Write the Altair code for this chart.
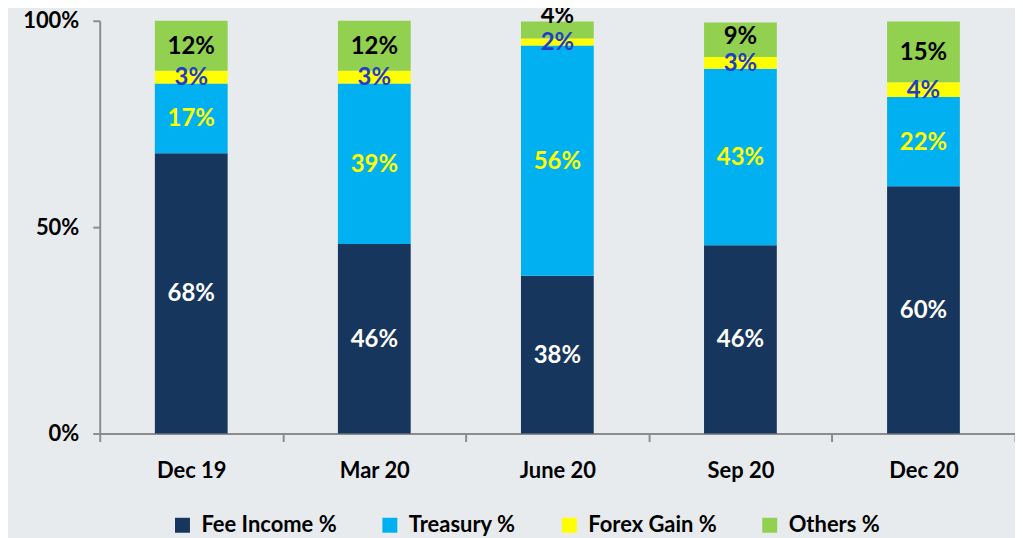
import altair as alt
import pandas as pd

categories = ["Dec 19", "Mar 20", "June 20", "Sep 20", "Dec 20"]
series = ["Fee Income %", "Treasury %", "Forex Gain %", "Others %"]
fee_income = [67.9, 45.9, 38.2, 45.6, 59.9]
treasury = [16.9, 38.9, 55.8, 42.8, 21.6]
forex_gain = [3.1, 3.1, 1.7, 2.8, 3.6]
others = [12.1, 12.1, 4.1, 8.4, 14.7]
fee_labels = ["68%", "46%", "38%", "46%", "60%"]
treasury_labels = ["17%", "39%", "56%", "43%", "22%"]
forex_labels = ["3%", "3%", "2%", "3%", "4%"]
others_labels = ["12%", "12%", "4%", "9%", "15%"]
y_ticks = [0, 50, 100]

bar_colors = ["#17365d", "#00b0f0", "#ffff00", "#92d050"]
text_colors = ["#ffffff", "#ffff00", "#1f3fc4", "#000000"]
FONT = "Lato"

values = [fee_income, treasury, forex_gain, others]
labels = [fee_labels, treasury_labels, forex_labels, others_labels]

rows = []
for i, cat in enumerate(categories):
    start = 0.0
    mids = []
    for j, s in enumerate(series):
        v = values[j][i]
        end = start + v
        mid = (start + end) / 2
        if j == 3:
            # keep the top label clear of the one beneath it
            mid = max(mid, mids[2] + 6.5)
        mids.append(mid)
        rows.append({"category": cat, "series": s, "order": j, "value": v,
                     "start": start, "end": end, "mid": mid, "label": labels[j][i]})
        start = end
df = pd.DataFrame(rows)

xenc = alt.X("category:N", sort=categories,
             scale=alt.Scale(domain=categories, paddingInner=0, paddingOuter=0),
             axis=alt.Axis(title=None, labelAngle=0, tickBand="extent", tickSize=8,
                           labelPadding=19, labelFontSize=22, labelFont=FONT,
                           labelFontWeight="bold", labelColor="#000000",
                           domainColor="#8c8c8c", tickColor="#8c8c8c",
                           domainWidth=2, tickWidth=2))
yscale = alt.Scale(domain=[0, 100], nice=False)

bars = alt.Chart(df).mark_bar(size=73).encode(
    x=xenc,
    y=alt.Y("start:Q", scale=yscale,
            axis=alt.Axis(title=None, values=y_ticks, labelExpr="datum.value + '%'",
                          grid=False, tickSize=7, labelPadding=14, labelFontSize=22,
                          labelFont=FONT, labelFontWeight="bold", labelColor="#000000",
                          domainColor="#8c8c8c", tickColor="#8c8c8c",
                          domainWidth=2, tickWidth=2)),
    y2="end:Q",
    color=alt.Color("series:N", sort=series,
                    scale=alt.Scale(domain=series, range=bar_colors),
                    legend=alt.Legend(title=None, orient="none", direction="horizontal",
                                      legendX=72, legendY=495, padding=0,
                                      symbolType="square", symbolSize=225,
                                      symbolStrokeWidth=0, symbolOpacity=1,
                                      columnPadding=42, labelOffset=8,
                                      labelFontSize=22, labelFont=FONT,
                                      labelFontWeight="bold", labelColor="#000000")),
    order=alt.Order("order:Q"),
)

layers = [bars]
for j, s in enumerate(series):
    t = alt.Chart(df).transform_filter(alt.datum.series == s).mark_text(
        font=FONT, fontSize=24, fontWeight="bold", baseline="middle",
        align="center", color=text_colors[j], dy=1
    ).encode(
        x=alt.X("category:N", sort=categories),
        y=alt.Y("mid:Q", scale=yscale),
        text="label:N",
    )
    layers.append(t)

chart = alt.layer(*layers).properties(
    width=918, height=414,
    autosize=alt.AutoSizeParams(type="none"),
    padding={"left": 92, "top": 12, "right": 0, "bottom": 110},
    background="#e8ebee",
).configure_view(stroke=None)

chart.save("out.html", embed_options={"renderer": "svg", "actions": False})
